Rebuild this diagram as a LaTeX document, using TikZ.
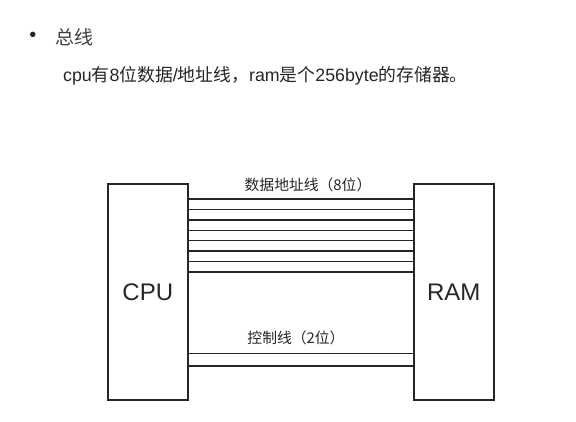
\documentclass[tikz,border=0pt]{standalone}
\usepackage{fontspec}
\setmainfont{Liberation Sans}
\newfontfamily\cjk{Noto Sans CJK SC}
\begin{document}
\begin{tikzpicture}[x=1pt,y=-1pt,
  blk/.style={draw=black!85, line width=1.6pt, fill=white},
  wire/.style={draw=black!85, line width=1.6pt},
  txt/.style={inner sep=0pt, text=black!85}]
\useasboundingbox (0,0) rectangle (576,422);
\fill[white] (0,0) rectangle (576,422);
% header
\node[txt, font=\fontsize{20}{22}\selectfont] (bul) at (33,37) {•};
\node[txt, anchor=west, font=\cjk\fontsize{19}{22}\selectfont, text=black!75] (title) at (55,37) {总线};
\node[txt, anchor=west, font=\fontsize{17.8}{20}\selectfont] (desc) at (63,76)
  {cpu{\cjk 有}8{\cjk 位数据}/{\cjk 地址线，}ram{\cjk 是个}256byte{\cjk 的存储器。}};
% boxes
\node[blk, minimum width=80pt, minimum height=216pt, anchor=north west] (cpu) at (107,183) {};
\node[blk, minimum width=80pt, minimum height=216pt, anchor=north west] (ram) at (413,183) {};
\node[txt, font=\fontsize{24}{28}\selectfont] (cpul) at (cpu.center) {CPU};
\node[txt, font=\fontsize{24}{28}\selectfont] (raml) at (ram.center) {RAM};
% data/address lines
\foreach \i in {0,...,7} {
  \coordinate (a\i) at (187,{199.3+10.35*\i});
  \coordinate (b\i) at (413,{199.3+10.35*\i});
  \draw[wire] (a\i) -- (b\i);
}
% control lines
\foreach \i/\y in {0/353.5,1/366} {
  \coordinate (c\i) at (187,\y);
  \coordinate (d\i) at (413,\y);
  \draw[wire] (c\i) -- (d\i);
}
\node[txt, font=\cjk\fontsize{14.8}{17}\selectfont] (dlab) at (308,185) {数据地址线（8位）};
\node[txt, font=\cjk\fontsize{14.8}{17}\selectfont] (clab) at (296,338) {控制线（2位）};
\end{tikzpicture}
\end{document}
